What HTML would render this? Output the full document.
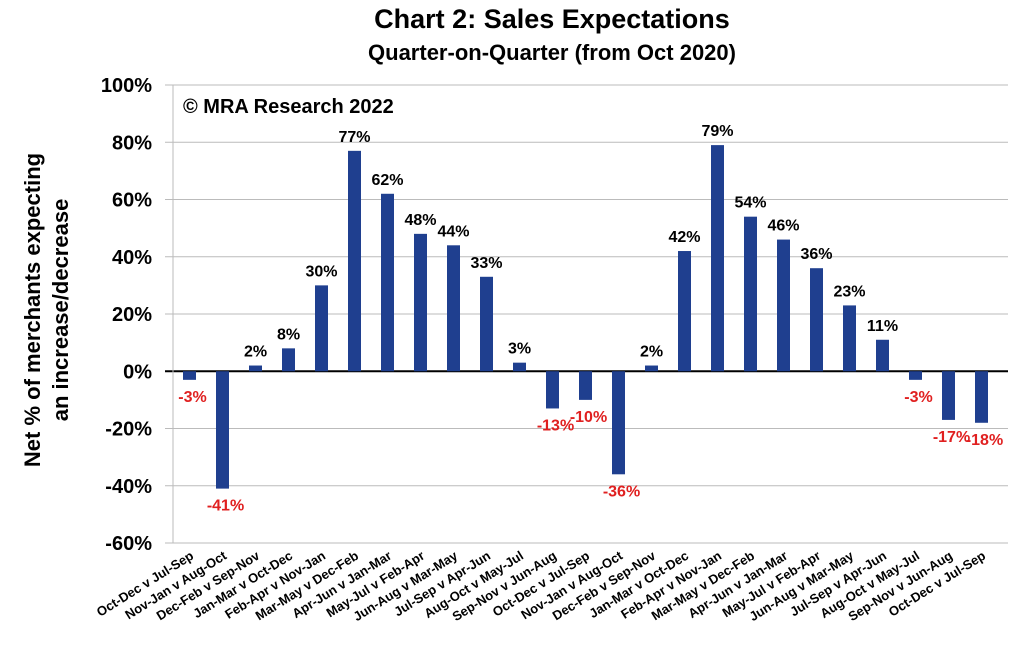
<!DOCTYPE html>
<html><head><meta charset="utf-8"><style>
body{margin:0;background:#fff;width:1036px;height:645px;overflow:hidden}
svg{font-family:"Liberation Sans",sans-serif}
</style></head><body>
<svg id="chart" width="1036" height="645">
<text x="552" y="28" text-anchor="middle" font-size="27" font-weight="bold">Chart 2: Sales Expectations</text>
<text x="552" y="60" text-anchor="middle" font-size="22" font-weight="bold">Quarter-on-Quarter (from Oct 2020)</text>
<text x="183" y="113" font-size="20" font-weight="bold">© MRA Research 2022</text>
<g transform="translate(40,310) rotate(-90)">
<text x="0" y="0" text-anchor="middle" font-size="22" font-weight="bold">Net % of merchants expecting</text>
<text x="0" y="28" text-anchor="middle" font-size="22" font-weight="bold">an increase/decrease</text>
</g>
<g id="grid"></g><g id="bars"></g><g id="labels"></g>
</svg>
<script>
const categories=["Oct-Dec v Jul-Sep","Nov-Jan v Aug-Oct","Dec-Feb v Sep-Nov","Jan-Mar v Oct-Dec","Feb-Apr v Nov-Jan","Mar-May v Dec-Feb","Apr-Jun v Jan-Mar","May-Jul v Feb-Apr","Jun-Aug v Mar-May","Jul-Sep v Apr-Jun","Aug-Oct v May-Jul","Sep-Nov v Jun-Aug","Oct-Dec v Jul-Sep","Nov-Jan v Aug-Oct","Dec-Feb v Sep-Nov","Jan-Mar v Oct-Dec","Feb-Apr v Nov-Jan","Mar-May v Dec-Feb","Apr-Jun v Jan-Mar","May-Jul v Feb-Apr","Jun-Aug v Mar-May","Jul-Sep v Apr-Jun","Aug-Oct v May-Jul","Sep-Nov v Jun-Aug","Oct-Dec v Jul-Sep"];
const values=[-3,-41,2,8,30,77,62,48,44,33,3,-13,-10,-36,2,42,79,54,46,36,23,11,-3,-17,-18];
const ticks=[100,80,60,40,20,0,-20,-40,-60];
const NS="http://www.w3.org/2000/svg";
const x0=173,x1=1008,step=33,plotTop=85,plotBot=543;
const y=v=>plotTop+(100-v)/160*(plotBot-plotTop);
const xc=i=>x0+step*(i+0.5);
function mk(t,a,p){const e=document.createElementNS(NS,t);for(const k in a)e.setAttribute(k,a[k]);p.appendChild(e);return e;}
const g=document.getElementById('grid'),b=document.getElementById('bars'),l=document.getElementById('labels');
ticks.forEach(t=>{
 const ln=mk('line',{x1:x0-8,x2:x1,y1:y(t),y2:y(t),stroke:t===0?'#000':'#bbb','stroke-width':t===0?2:1},g);
 
 
 const tx=mk('text',{x:152,y:y(t)+7,'text-anchor':'end','font-size':20,'font-weight':'bold'},g);
 tx.textContent=t+'%';
 
 
});
const ax=mk('line',{x1:x0,x2:x0,y1:plotTop,y2:plotBot,stroke:'#bbb'},g);


values.forEach((v,i)=>{
 const cx=xc(i),y0=y(0),yv=y(v);
 const r=mk('rect',{x:cx-6.5,width:13,y:Math.min(y0,yv),height:Math.abs(yv-y0),fill:'#1f3f8f'},b);
 
 
 const t=mk('text',{x:cx+(v<0?3:0),y:v>=0?yv-9:yv+22,'text-anchor':'middle','font-size':16,'font-weight':'bold',fill:v<0?'#e02020':'#000'},l);
 t.textContent=v+'%';
 
 
 const c=mk('text',{transform:`translate(${cx+5},${plotBot+15}) rotate(-32)`,'text-anchor':'end','font-size':13,'font-weight':'bold'},l);
 c.textContent=categories[i];
 
 
});
</script>
</body></html>
